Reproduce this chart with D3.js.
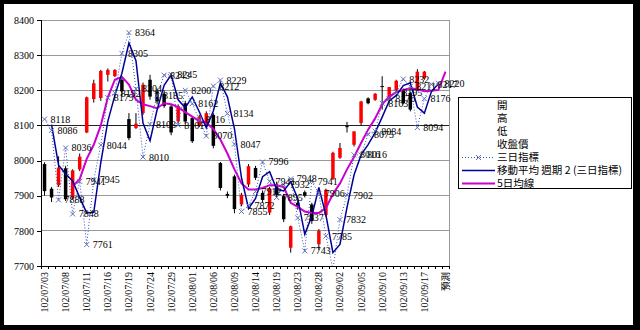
<!DOCTYPE html>
<html>
<head>
<meta charset="utf-8">
<script src="https://cdn.jsdelivr.net/npm/d3@7"></script>
<style>
  body { margin: 0; background: #000; }
  svg { display: block; }
</style>
</head>
<body>
<div id="chart"></div>
<script>
// trading days (ROC calendar), last slot is the forecast
const dates = [
  "102/07/03","102/07/04","102/07/05","102/07/08","102/07/09","102/07/10","102/07/11","102/07/12",
  "102/07/15","102/07/16","102/07/17","102/07/18","102/07/19","102/07/22","102/07/23","102/07/24",
  "102/07/25","102/07/26","102/07/29","102/07/30","102/07/31","102/08/01","102/08/02","102/08/05",
  "102/08/06","102/08/07","102/08/08","102/08/09","102/08/12","102/08/13","102/08/14","102/08/15",
  "102/08/16","102/08/19","102/08/20","102/08/22","102/08/23","102/08/26","102/08/27","102/08/28",
  "102/08/29","102/08/30","102/09/02","102/09/03","102/09/04","102/09/05","102/09/06","102/09/09",
  "102/09/10","102/09/11","102/09/12","102/09/13","102/09/14","102/09/16","102/09/17","102/09/18",
  "102/09/23","預測"
];

// 開 高 低 收盤價
const open  = [7990,7920,7930,7978,7895,7975,8080,8175,8178,8244,8240,8230,8118,8093,8135,8230,
  8197,8190,8154,8112,8163,8121,8100,8102,8130,7993,7905,7955,7875,7932,7979,7908,
  7852,7927,7899,7752,7880,7910,7875,7762,7845,7948,8008,8098,8045,8107,8177,8173,
  8212,8173,8201,8201,8192,8201,8234];
const high  = [7995,7925,8012,7985,7975,8020,8182,8230,8258,8262,8260,8240,8135,8135,8222,8244,
  8205,8200,8160,8160,8170,8126,8130,8140,8135,7996,7912,7960,7908,7990,7985,7915,
  7925,7940,7905,7815,7890,7915,7880,7805,7920,8025,8050,8110,8083,8170,8180,8192,
  8240,8209,8230,8205,8195,8260,8255];
const low   = [7900,7882,7925,7885,7890,7970,8078,8165,8170,8225,8238,8185,8058,8090,8130,8173,
  8160,8150,8072,8105,8105,8050,8095,8098,8035,7915,7893,7850,7870,7925,7945,7880,
  7845,7895,7825,7738,7860,7895,7820,7745,7840,7945,8005,8080,8040,8100,8160,8170,
  8145,8170,8198,8160,8140,8198,8230];
const close = [7913,7895,7980,7890,7972,8011,8180,8220,8255,8258,8258,8197,8064,8105,8216,8182,
  8168,8155,8080,8155,8111,8055,8125,8135,8042,7922,7900,7862,7903,7984,7951,7888,
  7920,7903,7833,7813,7871,7900,7828,7800,7917,8022,8036,8095,8083,8168,8163,8190,
  8210,8209,8227,8163,8145,8253,8253];

// 三日指標
const threeDay = [8118,8086,7888,8036,7848,7941,7761,7945,8044,8179,8192,8305,8364,8204,8010,8103,
  8185,8243,8245,8101,8200,8162,8116,8070,8212,8229,8134,8047,7855,7872,7912,7996,
  7941,7895,7932,7948,7837,7743,7941,7906,7785,7691,7832,7902,8016,8016,8075,8084,
  8163,8176,8195,8232,8211,8094,8176,8217,8220];

// 移動平均 週期 2 (三日指標)
const movAvg2 = [null,8102,7987,7962,7942,7894.5,7851,7853,7994.5,8111.5,8185.5,8248.5,8334.5,8284,8107,8056.5,
  8144,8214,8244,8173,8150.5,8181,8139,8093,8141,8220.5,8181.5,8090.5,7951,7863.5,7892,7954,
  7968.5,7918,7913.5,7940,7892.5,7790,7842,7923.5,7845.5,7738,7761.5,7867,7959,8016,8045.5,8079.5,
  8123.5,8169.5,8185.5,8213.5,8221.5,8152.5,8135,8196.5,8218.5];

// 5日均線
const ma5 = [null,null,null,null,7927,7947,8005,8045,8100,8180,8230,8238,8216,8173,8160,8155,
  8149,8163,8160,8152,8138,8125,8112,8108,8090,8060,8020,7975,7935,7918,7918,7922,
  7930,7930,7925,7880,7868,7855,7851,7851,7865,7905,7935,7975,8010,8050,8088,8120,
  8160,8182,8195,8201,8206,8203,8197,8199,8201,8253];

const yTicks = [7700,7800,7900,8000,8100,8200,8300,8400];

const legendItems = ["開","高","低","收盤價","三日指標","移動平均  週期 2 (三日指標)","5日均線"];

const width = 640, height = 330;
const plot = { left: 41, right: 449, top: 20, bottom: 266 };
const numFont = "'Liberation Serif', 'DejaVu Serif', serif";
const cjkFont = "'Noto Sans CJK TC', 'Noto Sans CJK JP', sans-serif";

const svg = d3.select("#chart").append("svg")
  .attr("width", width)
  .attr("height", height);

// black frame around a white sheet
svg.append("rect").attr("width", width).attr("height", height).attr("fill", "#000");
svg.append("rect").attr("x", 4).attr("y", 4).attr("width", 629).attr("height", 321).attr("fill", "#fff");

const x = d3.scaleBand()
  .domain(d3.range(dates.length))
  .range([plot.left, plot.right]);
const cx = i => x(i) + x.bandwidth() / 2;

const y = d3.scaleLinear()
  .domain([7700, 8400])
  .range([plot.bottom, plot.top]);

// gridlines
svg.append("g")
  .selectAll("line")
  .data(yTicks.filter(t => t > 7700))
  .join("line")
  .attr("x1", plot.left).attr("x2", plot.right)
  .attr("y1", d => y(d)).attr("y2", d => y(d))
  .attr("stroke", d => d === 8100 ? "#222" : "#999")
  .attr("stroke-width", 1)
  .attr("shape-rendering", "crispEdges");

// right edge of plot area
svg.append("line")
  .attr("x1", plot.right).attr("x2", plot.right)
  .attr("y1", plot.top).attr("y2", plot.bottom)
  .attr("stroke", "#999").attr("shape-rendering", "crispEdges");

// y axis
const yAxis = svg.append("g")
  .attr("transform", `translate(${plot.left},0)`)
  .call(d3.axisLeft(y).tickValues(yTicks).tickSize(4).tickPadding(3).tickFormat(d3.format("d")));
yAxis.select(".domain").attr("stroke", "#000").attr("shape-rendering", "crispEdges");
yAxis.selectAll(".tick line").attr("shape-rendering", "crispEdges");
yAxis.selectAll("text").attr("font-family", numFont).attr("font-size", 10).attr("fill", "#000");

// x axis: line, a tick on every category boundary, labels every third day
svg.append("line")
  .attr("x1", plot.left).attr("x2", plot.right)
  .attr("y1", plot.bottom + 0.5).attr("y2", plot.bottom + 0.5)
  .attr("stroke", "#000");
svg.append("g")
  .selectAll("line")
  .data(d3.range(dates.length + 1))
  .join("line")
  .attr("x1", i => Math.round(i < dates.length ? x(i) : plot.right) + 0.5)
  .attr("x2", i => Math.round(i < dates.length ? x(i) : plot.right) + 0.5)
  .attr("y1", plot.bottom).attr("y2", plot.bottom + 3)
  .attr("stroke", "#000");

svg.append("g")
  .selectAll("text")
  .data(d3.range(dates.length).filter(i => i % 3 === 0))
  .join("text")
  .attr("transform", i => `translate(${cx(i)},${plot.bottom + 6}) rotate(-90)`)
  .attr("text-anchor", "end")
  .attr("dy", "0.35em")
  .attr("font-family", i => dates[i] === "預測" ? cjkFont : numFont)
  .attr("font-size", i => dates[i] === "預測" ? 9.5 : 10)
  .text(i => dates[i]);

// candlesticks
const candles = d3.range(open.length).map(i => ({ i, o: open[i], h: high[i], l: low[i], c: close[i] }));
const cg = svg.append("g");
cg.selectAll("line")
  .data(candles)
  .join("line")
  .attr("x1", d => cx(d.i)).attr("x2", d => cx(d.i))
  .attr("y1", d => y(d.h)).attr("y2", d => y(d.l))
  .attr("stroke", "#000").attr("stroke-width", 1);
cg.selectAll("rect")
  .data(candles)
  .join("rect")
  .attr("x", d => cx(d.i) - 1.75)
  .attr("width", 3.5)
  .attr("y", d => y(Math.max(d.o, d.c)))
  .attr("height", d => Math.max(1, Math.abs(y(d.o) - y(d.c))))
  .attr("fill", d => d.c >= d.o ? "#ff0000" : "#000");

// clip lines to the plot area
svg.append("clipPath").attr("id", "plotClip")
  .append("rect")
  .attr("x", plot.left).attr("y", plot.top)
  .attr("width", plot.right - plot.left).attr("height", plot.bottom - plot.top);

const lineOf = arr => d3.line()
  .defined(d => d != null)
  .x((d, i) => cx(i))
  .y(d => y(d))(arr);

const lines = svg.append("g").attr("clip-path", "url(#plotClip)");

// 5日均線
lines.append("path")
  .attr("d", lineOf(ma5))
  .attr("fill", "none")
  .attr("stroke", "#cc00cc")
  .attr("stroke-width", 2);

// 三日指標 dotted
lines.append("path")
  .attr("d", lineOf(threeDay))
  .attr("fill", "none")
  .attr("stroke", "#3a4fc0")
  .attr("stroke-width", 1)
  .attr("stroke-dasharray", "1,2");

// 移動平均
lines.append("path")
  .attr("d", lineOf(movAvg2))
  .attr("fill", "none")
  .attr("stroke", "#000099")
  .attr("stroke-width", 1.5);

// × markers
const pts = threeDay.map((v, i) => ({ i, v })).filter(d => d.v >= 7700 && d.v <= 8400);
lines.append("g")
  .selectAll("path")
  .data(pts)
  .join("path")
  .attr("d", d => {
    const px = cx(d.i), py = y(d.v), s = 2.5;
    return `M${px - s},${py - s}L${px + s},${py + s}M${px - s},${py + s}L${px + s},${py - s}`;
  })
  .attr("stroke", "#6070b8")
  .attr("stroke-width", 1)
  .attr("fill", "none");

// value labels
svg.append("g")
  .selectAll("text")
  .data(pts)
  .join("text")
  .attr("x", d => cx(d.i) + 6)
  .attr("y", d => y(d.v))
  .attr("dy", "0.35em")
  .attr("font-family", numFont)
  .attr("font-size", 10)
  .attr("fill", "#000")
  .text(d => d.v);

// legend
const lg = svg.append("g");
lg.append("rect")
  .attr("x", 458.5).attr("y", 97.5)
  .attr("width", 173).attr("height", 91)
  .attr("fill", "#fff").attr("stroke", "#000");
const rowY = k => 105.5 + k * 13;
lg.selectAll("text")
  .data(legendItems)
  .join("text")
  .attr("x", 497)
  .attr("y", (d, k) => rowY(k))
  .attr("dy", "0.35em")
  .attr("font-family", cjkFont)
  .attr("font-size", 10.5)
  .text(d => d);
// symbols for the three line series
lg.append("line").attr("x1", 462).attr("x2", 495).attr("y1", rowY(4)).attr("y2", rowY(4))
  .attr("stroke", "#3a4fc0").attr("stroke-dasharray", "1,2");
lg.append("path")
  .attr("d", `M${478.5 - 2.5},${rowY(4) - 2.5}L${478.5 + 2.5},${rowY(4) + 2.5}M${478.5 - 2.5},${rowY(4) + 2.5}L${478.5 + 2.5},${rowY(4) - 2.5}`)
  .attr("stroke", "#6070b8");
lg.append("line").attr("x1", 462).attr("x2", 495).attr("y1", rowY(5)).attr("y2", rowY(5))
  .attr("stroke", "#000099").attr("stroke-width", 1.5);
lg.append("line").attr("x1", 462).attr("x2", 495).attr("y1", rowY(6)).attr("y2", rowY(6))
  .attr("stroke", "#cc00cc").attr("stroke-width", 2);
</script>
</body>
</html>
